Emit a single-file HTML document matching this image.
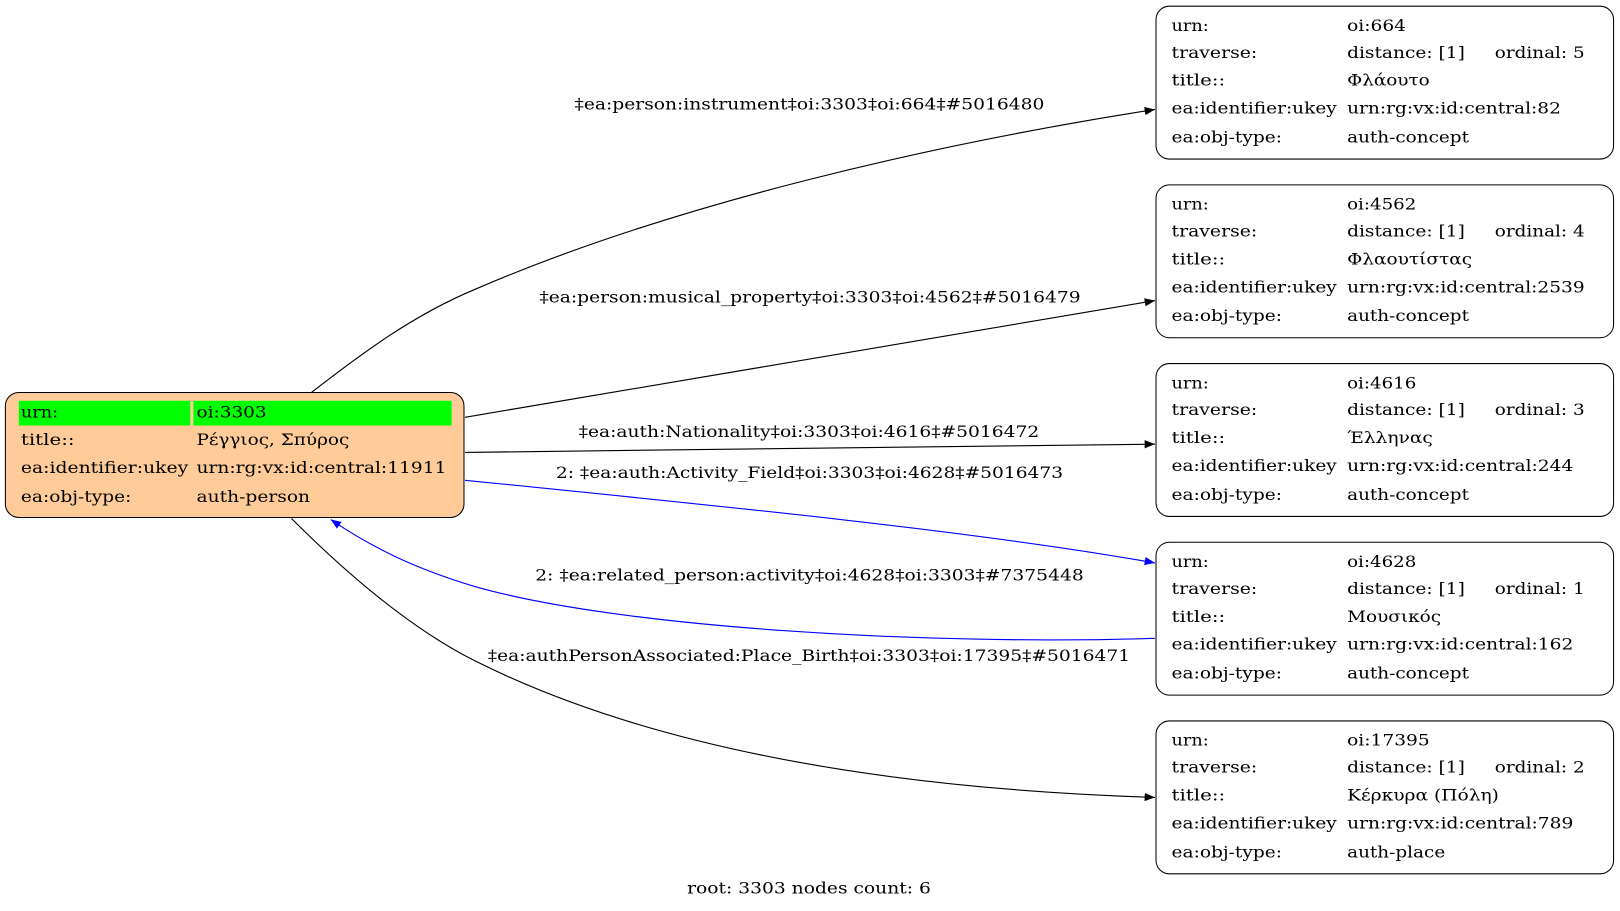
<!DOCTYPE html>
<html><head><meta charset="utf-8"><style>
html,body{margin:0;padding:0;background:#fff;}
svg{display:block;}
text{font-family:"DejaVu Serif","Liberation Serif",serif;font-size:15px;fill:#000;}
</style></head><body>
<svg width="1620" height="911" viewBox="0 0 1568 882" xmlns="http://www.w3.org/2000/svg">
<defs>
<marker id="ab" markerWidth="10" markerHeight="8" refX="10" refY="4" orient="auto" markerUnits="userSpaceOnUse"><path d="M0,0 L10,4 L0,8 Z" fill="#000"/></marker>
<marker id="au" markerWidth="10" markerHeight="8" refX="10" refY="4" orient="auto" markerUnits="userSpaceOnUse"><path d="M0,0 L10,4 L0,8 Z" fill="#00f"/></marker>
</defs>
<g fill="none" stroke-width="1.1">
<path d="M300,381 C350,342 400,305 460,280 C650,198 900,140 1118,106" stroke="#000" marker-end="url(#ab)"/>
<path d="M450,404 L1118,291" stroke="#000" marker-end="url(#ab)"/>
<path d="M450,438 L1118,430" stroke="#000" marker-end="url(#ab)"/>
<path d="M450,465 C700,490 950,515 1118,545" stroke="#00f" marker-end="url(#au)"/>
<path d="M1118,618 C900,625 600,608 460,568 C400,550 360,530 320,503" stroke="#00f" marker-end="url(#au)"/>
<path d="M282,502 C340,560 400,610 460,640 C650,735 900,765 1118,772" stroke="#000" marker-end="url(#ab)"/>
</g>
<text x="556" y="106" textLength="455" lengthAdjust="spacingAndGlyphs">‡ea:person:instrument‡oi:3303‡oi:664‡#5016480</text>
<text x="522" y="293" textLength="524" lengthAdjust="spacingAndGlyphs">‡ea:person:musical_property‡oi:3303‡oi:4562‡#5016479</text>
<text x="560" y="423" textLength="446" lengthAdjust="spacingAndGlyphs">‡ea:auth:Nationality‡oi:3303‡oi:4616‡#5016472</text>
<text x="538" y="463" textLength="491" lengthAdjust="spacingAndGlyphs">2: ‡ea:auth:Activity_Field‡oi:3303‡oi:4628‡#5016473</text>
<text x="518" y="562" textLength="531" lengthAdjust="spacingAndGlyphs">2: ‡ea:related_person:activity‡oi:4628‡oi:3303‡#7375448</text>
<text x="472" y="640" textLength="622" lengthAdjust="spacingAndGlyphs">‡ea:authPersonAssociated:Place_Birth‡oi:3303‡oi:17395‡#5016471</text>
<text x="665" y="865" textLength="236" lengthAdjust="spacingAndGlyphs">root: 3303 nodes count: 6</text>
<rect x="5" y="380" width="444" height="121" rx="13" fill="#ffcc99" stroke="#000" stroke-width="1"/>
<rect x="18" y="388" width="166" height="24" fill="#00ff00"/>
<rect x="187" y="388" width="250" height="24" fill="#00ff00"/>
<text x="20" y="404" textLength="36" lengthAdjust="spacingAndGlyphs">urn:</text><text x="190" y="404" textLength="68" lengthAdjust="spacingAndGlyphs">oi:3303</text>
<text x="20" y="431" textLength="52" lengthAdjust="spacingAndGlyphs">title::</text><text x="190" y="431" textLength="148" lengthAdjust="spacingAndGlyphs">Ρέγγιος, Σπύρος</text>
<text x="20" y="458" textLength="162" lengthAdjust="spacingAndGlyphs">ea:identifier:ukey</text><text x="190" y="458" textLength="242" lengthAdjust="spacingAndGlyphs">urn:rg:vx:id:central:11911</text>
<text x="20" y="486" textLength="107" lengthAdjust="spacingAndGlyphs">ea:obj-type:</text><text x="190" y="486" textLength="110" lengthAdjust="spacingAndGlyphs">auth-person</text>
<g fill="#fff" stroke="#000" stroke-width="1">
<rect x="1119" y="6" width="443" height="148" rx="13"/>
<rect x="1119" y="179" width="443" height="148" rx="13"/>
<rect x="1119" y="352" width="443" height="148" rx="13"/>
<rect x="1119" y="525" width="443" height="148" rx="13"/>
<rect x="1119" y="698" width="443" height="148" rx="13"/>
</g>
<g transform="translate(0,6)">
<text x="1134" y="24" textLength="36" lengthAdjust="spacingAndGlyphs">urn:</text><text x="1304" y="24" textLength="57" lengthAdjust="spacingAndGlyphs">oi:664</text>
<text x="1134" y="50" textLength="83" lengthAdjust="spacingAndGlyphs">traverse:</text><text x="1304" y="50" textLength="114" lengthAdjust="spacingAndGlyphs">distance: [1]</text><text x="1447" y="50" textLength="87" lengthAdjust="spacingAndGlyphs">ordinal: 5</text>
<text x="1134" y="77" textLength="52" lengthAdjust="spacingAndGlyphs">title::</text><text x="1304" y="77" textLength="80" lengthAdjust="spacingAndGlyphs">Φλάουτο</text>
<text x="1134" y="104" textLength="160" lengthAdjust="spacingAndGlyphs">ea:identifier:ukey</text><text x="1304" y="104" textLength="207" lengthAdjust="spacingAndGlyphs">urn:rg:vx:id:central:82</text>
<text x="1134" y="132" textLength="107" lengthAdjust="spacingAndGlyphs">ea:obj-type:</text><text x="1304" y="132" textLength="118" lengthAdjust="spacingAndGlyphs">auth-concept</text>
</g>
<g transform="translate(0,179)">
<text x="1134" y="24" textLength="36" lengthAdjust="spacingAndGlyphs">urn:</text><text x="1304" y="24" textLength="67" lengthAdjust="spacingAndGlyphs">oi:4562</text>
<text x="1134" y="50" textLength="83" lengthAdjust="spacingAndGlyphs">traverse:</text><text x="1304" y="50" textLength="114" lengthAdjust="spacingAndGlyphs">distance: [1]</text><text x="1447" y="50" textLength="87" lengthAdjust="spacingAndGlyphs">ordinal: 4</text>
<text x="1134" y="77" textLength="52" lengthAdjust="spacingAndGlyphs">title::</text><text x="1304" y="77" textLength="121" lengthAdjust="spacingAndGlyphs">Φλαουτίστας</text>
<text x="1134" y="104" textLength="160" lengthAdjust="spacingAndGlyphs">ea:identifier:ukey</text><text x="1304" y="104" textLength="230" lengthAdjust="spacingAndGlyphs">urn:rg:vx:id:central:2539</text>
<text x="1134" y="132" textLength="107" lengthAdjust="spacingAndGlyphs">ea:obj-type:</text><text x="1304" y="132" textLength="118" lengthAdjust="spacingAndGlyphs">auth-concept</text>
</g>
<g transform="translate(0,352)">
<text x="1134" y="24" textLength="36" lengthAdjust="spacingAndGlyphs">urn:</text><text x="1304" y="24" textLength="67" lengthAdjust="spacingAndGlyphs">oi:4616</text>
<text x="1134" y="50" textLength="83" lengthAdjust="spacingAndGlyphs">traverse:</text><text x="1304" y="50" textLength="114" lengthAdjust="spacingAndGlyphs">distance: [1]</text><text x="1447" y="50" textLength="87" lengthAdjust="spacingAndGlyphs">ordinal: 3</text>
<text x="1134" y="77" textLength="52" lengthAdjust="spacingAndGlyphs">title::</text><text x="1304" y="77" textLength="83" lengthAdjust="spacingAndGlyphs">Έλληνας</text>
<text x="1134" y="104" textLength="160" lengthAdjust="spacingAndGlyphs">ea:identifier:ukey</text><text x="1304" y="104" textLength="219" lengthAdjust="spacingAndGlyphs">urn:rg:vx:id:central:244</text>
<text x="1134" y="132" textLength="107" lengthAdjust="spacingAndGlyphs">ea:obj-type:</text><text x="1304" y="132" textLength="118" lengthAdjust="spacingAndGlyphs">auth-concept</text>
</g>
<g transform="translate(0,525)">
<text x="1134" y="24" textLength="36" lengthAdjust="spacingAndGlyphs">urn:</text><text x="1304" y="24" textLength="67" lengthAdjust="spacingAndGlyphs">oi:4628</text>
<text x="1134" y="50" textLength="83" lengthAdjust="spacingAndGlyphs">traverse:</text><text x="1304" y="50" textLength="114" lengthAdjust="spacingAndGlyphs">distance: [1]</text><text x="1447" y="50" textLength="87" lengthAdjust="spacingAndGlyphs">ordinal: 1</text>
<text x="1134" y="77" textLength="52" lengthAdjust="spacingAndGlyphs">title::</text><text x="1304" y="77" textLength="91" lengthAdjust="spacingAndGlyphs">Μουσικός</text>
<text x="1134" y="104" textLength="160" lengthAdjust="spacingAndGlyphs">ea:identifier:ukey</text><text x="1304" y="104" textLength="219" lengthAdjust="spacingAndGlyphs">urn:rg:vx:id:central:162</text>
<text x="1134" y="132" textLength="107" lengthAdjust="spacingAndGlyphs">ea:obj-type:</text><text x="1304" y="132" textLength="118" lengthAdjust="spacingAndGlyphs">auth-concept</text>
</g>
<g transform="translate(0,698)">
<text x="1134" y="24" textLength="36" lengthAdjust="spacingAndGlyphs">urn:</text><text x="1304" y="24" textLength="80" lengthAdjust="spacingAndGlyphs">oi:17395</text>
<text x="1134" y="50" textLength="83" lengthAdjust="spacingAndGlyphs">traverse:</text><text x="1304" y="50" textLength="114" lengthAdjust="spacingAndGlyphs">distance: [1]</text><text x="1447" y="50" textLength="87" lengthAdjust="spacingAndGlyphs">ordinal: 2</text>
<text x="1134" y="77" textLength="52" lengthAdjust="spacingAndGlyphs">title::</text><text x="1304" y="77" textLength="147" lengthAdjust="spacingAndGlyphs">Κέρκυρα (Πόλη)</text>
<text x="1134" y="104" textLength="160" lengthAdjust="spacingAndGlyphs">ea:identifier:ukey</text><text x="1304" y="104" textLength="219" lengthAdjust="spacingAndGlyphs">urn:rg:vx:id:central:789</text>
<text x="1134" y="132" textLength="107" lengthAdjust="spacingAndGlyphs">ea:obj-type:</text><text x="1304" y="132" textLength="95" lengthAdjust="spacingAndGlyphs">auth-place</text>
</g>
</svg>
</body></html>
